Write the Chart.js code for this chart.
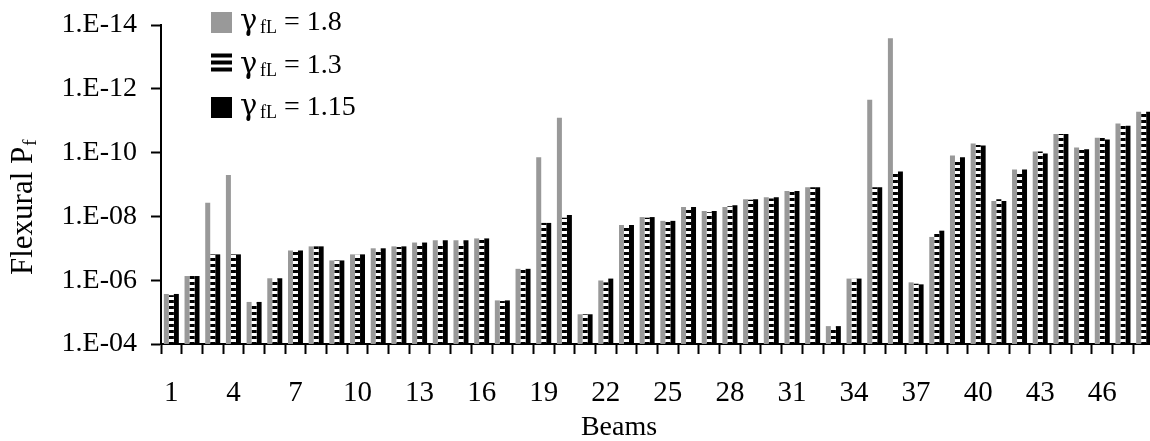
<!DOCTYPE html>
<html>
<head>
<meta charset="utf-8">
<title>Flexural Pf by beam</title>
<script src="https://cdn.jsdelivr.net/npm/chart.js@4/dist/chart.umd.min.js"></script>
<style>
  html, body { margin: 0; padding: 0; background: #fff; overflow: hidden; }
  #wrap { position: relative; width: 1150px; height: 441px; overflow: hidden; }
  #pfChart { position: absolute; left: 0; top: 0; }
</style>
</head>
<body>
<div id="wrap"><canvas id="pfChart" width="1154" height="441"></canvas></div>
<script>
// beam numbers 1..48
const beams = ['1','2','3','4','5','6','7','8','9','10','11','12','13','14','15','16',
    '17','18','19','20','21','22','23','24','25','26','27','28','29','30','31','32',
    '33','34','35','36','37','38','39','40','41','42','43','44','45','46','47','48'];

const gammaLabels = ['1.8', '1.3', '1.15'];

// flexural probability of failure for each load factor
const pfGamma180 = [2.7e-6, 7.4e-7, 3.7e-9, 5.0e-10, 4.8e-6, 8.7e-7, 1.17e-7, 8.7e-8,
    2.4e-7, 1.55e-7, 1.0e-7, 8.7e-8, 6.6e-8, 5.6e-8, 5.6e-8, 4.9e-8,
    4.3e-6, 4.4e-7, 1.4e-10, 8.1e-12, 1.17e-5, 1.02e-6, 1.86e-8, 1.05e-8,
    1.38e-8, 5.1e-9, 6.8e-9, 5.1e-9, 2.9e-9, 2.5e-9, 1.6e-9, 1.23e-9,
    2.75e-5, 8.9e-7, 2.2e-12, 2.6e-14, 1.17e-6, 4.4e-8, 1.23e-10, 5.2e-11,
    3.3e-9, 3.4e-10, 9.3e-11, 2.6e-11, 6.9e-11, 3.4e-11, 1.23e-11, 5.2e-12];

const pfGamma130 = [2.95e-6, 7.4e-7, 1.55e-7, 1.55e-7, 5.6e-6, 9.5e-7, 1.3e-7, 8.7e-8,
    2.4e-7, 1.6e-7, 1.23e-7, 9.1e-8, 7.2e-8, 7.2e-8, 7.2e-8, 4.9e-8,
    4.5e-6, 4.6e-7, 1.6e-8, 1.1e-8, 1.17e-5, 1.17e-6, 1.86e-8, 1.1e-8,
    1.45e-8, 5.1e-9, 7.4e-9, 4.8e-9, 3.0e-9, 2.75e-9, 1.7e-9, 1.23e-9,
    3.2e-5, 9.1e-7, 1.23e-9, 3.9e-10, 1.29e-6, 3.3e-8, 1.6e-10, 5.8e-11,
    2.9e-9, 3.9e-10, 9.3e-11, 2.6e-11, 6.9e-11, 3.4e-11, 1.23e-11, 6.0e-12];

const pfGamma115 = [2.7e-6, 7.4e-7, 1.55e-7, 1.55e-7, 4.8e-6, 8.7e-7, 1.17e-7, 8.7e-8,
    2.4e-7, 1.55e-7, 1.0e-7, 8.7e-8, 6.6e-8, 5.6e-8, 5.6e-8, 4.9e-8,
    4.3e-6, 4.4e-7, 1.6e-8, 9.1e-9, 1.17e-5, 8.9e-7, 1.86e-8, 1.05e-8,
    1.38e-8, 5.1e-9, 6.8e-9, 4.5e-9, 2.9e-9, 2.5e-9, 1.6e-9, 1.23e-9,
    2.75e-5, 8.9e-7, 1.23e-9, 3.9e-10, 1.35e-6, 2.8e-8, 1.4e-10, 6.0e-11,
    3.3e-9, 3.4e-10, 1.07e-10, 2.6e-11, 7.9e-11, 3.9e-11, 1.45e-11, 5.2e-12];

const yTicks = [1e-4, 1e-6, 1e-8, 1e-10, 1e-12, 1e-14];
const pfBase = 1e-4;

const serif = '"Liberation Serif", "Times New Roman", serif';

// horizontal black/white stripes for the middle series
function stripePattern(ctx) {
    const c = document.createElement('canvas');
    c.width = 6; c.height = 6;
    const p = c.getContext('2d');
    p.fillStyle = '#fff';
    p.fillRect(0, 0, 6, 6);
    p.fillStyle = '#000';
    p.fillRect(0, 0, 6, 3);
    return ctx.createPattern(c, 'repeat');
}

const ctx = document.getElementById('pfChart').getContext('2d');
const stripes = stripePattern(ctx);

function expLabel(v) {
    const e = Math.round(Math.log10(v));
    const a = Math.abs(e);
    return '1.E-' + (a < 10 ? '0' + a : a);
}

// titles and legend drawn straight on the canvas (subscripts)
const extraText = {
    id: 'extraText',
    afterDraw(chart) {
        const c = chart.ctx;
        c.save();
        c.fillStyle = '#000';
        c.textBaseline = 'alphabetic';

        c.font = '28px ' + serif;
        c.textAlign = 'center';
        c.fillText('Beams', 619, 435);

        c.save();
        c.translate(32, 275);
        c.rotate(-Math.PI / 2);
        c.textAlign = 'left';
        c.font = '31px ' + serif;
        c.fillText('Flexural P', 0, 0);
        const w = c.measureText('Flexural P').width;
        c.font = '19px ' + serif;
        c.fillText('f', w + 1, 4);
        c.restore();

        c.textAlign = 'left';
        chart.data.datasets.forEach((ds, i) => {
            const base = 30 + i * 42.5;
            if (i === 1) {
                c.fillStyle = '#000';
                for (let s = 0; s < 3; s++) c.fillRect(211, base - 19 + s * 7, 21, 4);
            } else {
                c.fillStyle = ds.backgroundColor;
                c.fillRect(211, base - 18, 21, 21);
            }
            c.fillStyle = '#000';
            c.font = '29px "DejaVu Serif", serif';
            c.fillText('\u03B3', 240, base);
            c.font = '18px ' + serif;
            c.fillText('fL', 260, base + 3);
            c.font = '28px ' + serif;
            c.fillText('= ' + gammaLabels[i], 284, base);
        });
        c.restore();
    }
};

const myChart = new Chart(ctx, {
    type: 'bar',
    data: {
        labels: beams,
        datasets: [
            { label: '\u03B3fL = 1.8', data: pfGamma180.map(v => [pfBase, v]), backgroundColor: '#999999' },
            { label: '\u03B3fL = 1.3', data: pfGamma130.map(v => [pfBase, v]), backgroundColor: stripes },
            { label: '\u03B3fL = 1.15', data: pfGamma115.map(v => [pfBase, v]), backgroundColor: '#000000' }
        ]
    },
    options: {
        responsive: false,
        animation: false,
        layout: { padding: { top: 25, right: 0, left: 0, bottom: 0 } },
        datasets: {
            bar: { categoryPercentage: 0.725, barPercentage: 1.0, borderWidth: 0 }
        },
        plugins: {
            legend: { display: false },
            tooltip: { enabled: false }
        },
        scales: {
            x: {
                grid: { offset: true, drawOnChartArea: false, tickLength: 10, tickWidth: 2, tickColor: '#000' },
                border: { display: true, color: '#000', width: 2 },
                ticks: {
                    autoSkip: false,
                    maxRotation: 0,
                    color: '#000',
                    font: { family: serif, size: 29 },
                    padding: 22,
                    callback: function (val, i) { return i % 3 === 0 ? this.getLabelForValue(val) : ''; }
                },
                afterFit: s => { s.height = 97; s.paddingLeft = 0; s.paddingRight = 0; }
            },
            y: {
                type: 'logarithmic',
                reverse: true,
                min: 1e-14,
                max: 1e-4,
                afterBuildTicks: s => { s.ticks = yTicks.map(v => ({ value: v })); },
                grid: { drawOnChartArea: false, tickLength: 10, tickWidth: 2, tickColor: '#000' },
                border: { display: true, color: '#000', width: 2 },
                ticks: {
                    color: '#000',
                    font: { family: serif, size: 28 },
                    padding: 14,
                    callback: v => expLabel(v)
                },
                afterFit: s => { s.width = 161; s.paddingTop = 0; s.paddingBottom = 0; }
            }
        }
    },
    plugins: [extraText]
});
</script>
</body>
</html>
